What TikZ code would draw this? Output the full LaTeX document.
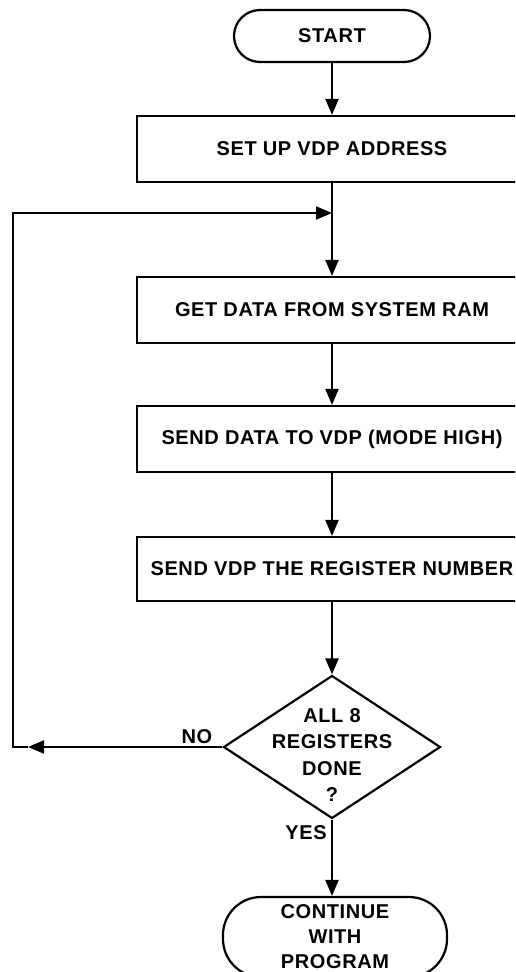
\documentclass[tikz,border=0pt]{standalone}
\usepackage{fontspec}
\setmainfont[LetterSpace=3]{Liberation Sans}
\usetikzlibrary{arrows.meta,shapes.geometric}
\begin{document}
\begin{tikzpicture}[x=1pt,y=-1pt,
  line width=2.2pt,
  every node/.style={font=\bfseries\fontsize{20}{25}\selectfont, inner sep=0pt},
  arr/.style={-{Triangle[length=16pt,width=13pt]}},
  procbox/.style={draw, rectangle, minimum width=390pt, minimum height=66pt},
  term/.style={draw, rectangle, rounded corners=#1, align=center}
]
\useasboundingbox (0,0) rectangle (515,972);
\clip (0,0) rectangle (515,972);
\fill[white] (0,0) rectangle (515,972);

\node[term=26pt, minimum width=196pt, minimum height=52pt] (start) at (332,36) {START};
\node[procbox] (b1) at (332,149) {SET UP VDP ADDRESS};
\node[procbox] (b2) at (332,310) {GET DATA FROM SYSTEM RAM};
\node[procbox] (b3) at (332,439) {SEND DATA TO VDP (MODE HIGH)};
\node[procbox, minimum height=64pt] (b4) at (332,569) {SEND VDP THE REGISTER NUMBER};
\node[draw, diamond, minimum width=217pt, minimum height=143pt] (d) at (332,747) {};
\node[align=center, font=\bfseries\fontsize{20}{26.5}\selectfont] (dt) at (332,755) {ALL 8\\REGISTERS\\DONE\\?};
\node[term=38pt, minimum width=224pt, minimum height=80pt] (end) at (335,937)
  {CONTINUE\\WITH\\PROGRAM};

\node (no) at (197,737) {NO};
\node (yes) at (306,833) {YES};

\coordinate (j) at (332,213);
\coordinate (na) at (28,747);
\coordinate (nl) at (13,747);
\coordinate (nt) at (13,213);

\draw[arr] (start) -- (b1);
\draw[arr] (b1) -- (b2);
\draw[arr] (b2) -- (b3);
\draw[arr] (b3) -- (b4);
\draw[arr] (b4) -- (d.north);
\draw[arr] (d.south) -- (end.north -| d.south);
\draw[arr] (d.west) -- (na);
\draw[arr] (na) -- (nl) -- (nt) -- (j);
\end{tikzpicture}
\end{document}
